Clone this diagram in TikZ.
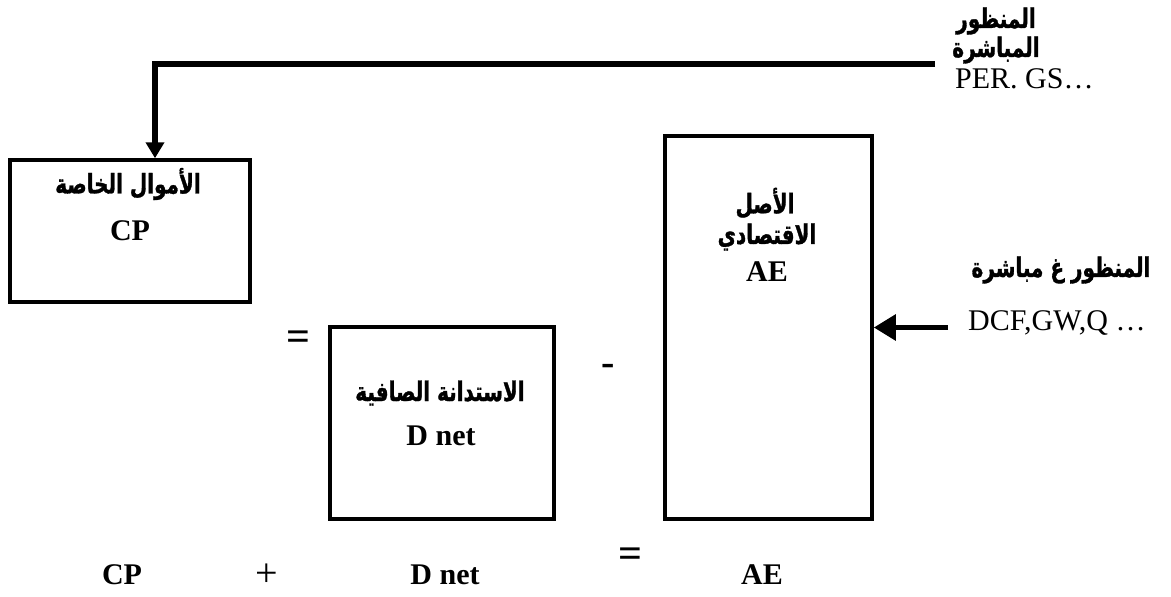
\documentclass[tikz,border=0pt]{standalone}
\usepackage{fontspec}
\setmainfont{Liberation Serif}
\newfontfamily\arabicfont[Script=Arabic, FakeStretch=0.74, FakeBold=1.2]{DejaVu Sans}
\TeXXeTstate=1
\usetikzlibrary{arrows.meta}
\tikzset{
  box/.style={draw, line width=3.5pt, inner sep=0pt},
  lat/.style={font=\fontsize{30}{36}\selectfont, inner sep=0pt, anchor=base},
  latb/.style={font=\bfseries\fontsize{30}{36}\selectfont, inner sep=0pt, anchor=base},
  eqsign/.style={font=\bfseries\fontsize{42}{48}\selectfont, inner sep=0pt},
  plussign/.style={font=\fontsize{40}{44}\selectfont, inner sep=0pt},
  ar/.style={font=\arabicfont\bfseries\fontsize{27}{30}\selectfont, inner sep=0pt},
  thick arrow/.style={line width=5.5pt, line join=miter},
}
\begin{document}
\begin{tikzpicture}[x=1pt,y=-1pt]
\useasboundingbox (0,0) rectangle (1171,597);
% boxes
\node[box, minimum width=240pt, minimum height=142pt] (cpbox) at (130,231) {};
\node[box, minimum width=224pt, minimum height=192pt] (dbox) at (442,423) {};
\node[box, minimum width=207pt, minimum height=383pt] (aebox) at (768.5,327.5) {};
% box texts
\node[ar] (cpar) at (128,184) {\beginR الأموال الخاصة\endR};
\node[latb] (cplat) at (130,240) {CP};
\node[ar] (dar) at (440,393) {\beginR الاستدانة الصافية\endR};
\node[latb] (dlat) at (441,445) {D net};
\node[ar] (aear1) at (765,203) {\beginR الأصل\endR};
\node[ar] (aear2) at (767,237) {\beginR الاقتصادي\endR};
\node[latb] (aelat) at (767,281) {AE};
% top right label
\node[ar] (top1) at (996,21) {\beginR المنظور\endR};
\node[ar] (top2) at (996,50) {\beginR المباشرة\endR};
\node[lat, anchor=base west] (top3) at (955,88) {PER. GS…};
% right label
\node[ar] (right1) at (1061,270) {\beginR المنظور غ مباشرة\endR};
\node[lat, anchor=base west] (right2) at (968,330) {DCF,GW,Q …};
% operators
\node[eqsign] (eq1) at (298,341) {=};
\node[font=\bfseries\fontsize{40}{48}\selectfont, inner sep=0pt] (minus) at (608,370) {-};
% bottom equation
\node[latb] (bcp) at (122,584) {CP};
\node[plussign] (bplus) at (267,575) {+};
\node[latb] (bd) at (445,584) {D net};
\node[eqsign] (beq) at (630,558) {=};
\node[latb] (bae) at (762,584) {AE};
% connectors
\coordinate (topstart) at (935,64);
\coordinate (topcorner) at (155,64);
\draw[thick arrow, -{Triangle[length=16pt,width=18pt]}] (topstart) -- (topcorner) -- (topcorner |- cpbox.north);
\coordinate (rightstart) at (948,327.5);
\draw[thick arrow, -{Triangle[length=22pt,width=25pt]}] (rightstart) -- (aebox.east);
\end{tikzpicture}
\end{document}
